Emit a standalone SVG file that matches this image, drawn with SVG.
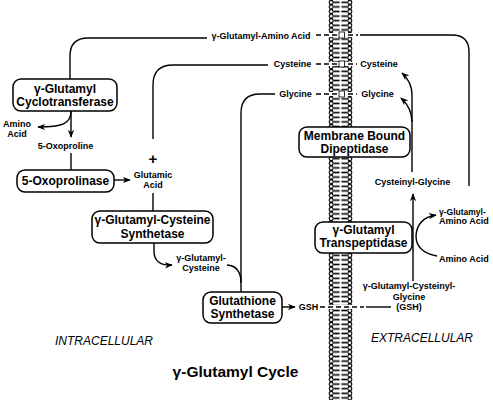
<svg xmlns="http://www.w3.org/2000/svg" width="493" height="400" viewBox="0 0 493 400">
<defs>
<pattern id="lipid" x="328" y="0" width="25" height="4.6" patternUnits="userSpaceOnUse">
<circle cx="3.2" cy="2.3" r="2" fill="#fff" stroke="#000" stroke-width="1.1"/>
<circle cx="21.8" cy="2.3" r="2" fill="#fff" stroke="#000" stroke-width="1.1"/>
<line x1="5.8" y1="2.3" x2="11.6" y2="2.3" stroke="#000" stroke-width="1.6"/>
<line x1="13.4" y1="2.3" x2="19.2" y2="2.3" stroke="#000" stroke-width="1.6"/>
</pattern>
<marker id="ah" viewBox="0 0 10 8" refX="9" refY="4" markerWidth="8" markerHeight="6.4" markerUnits="userSpaceOnUse" orient="auto">
<path d="M0,0 L10,4 L0,8 L3,4 z" fill="#000"/>
</marker>
</defs>
<style>
.box{fill:#fff;stroke:#000;stroke-width:1.5}
.t{font-family:"Liberation Sans",Arial,sans-serif;font-weight:bold;fill:#000;text-anchor:middle}
.n{font-size:12px}
.s{font-size:9px}
.i{font-family:"Liberation Sans",Arial,sans-serif;font-style:italic;font-size:12px;fill:#000;text-anchor:middle}
.c{fill:none;stroke:#000;stroke-width:1.4}
.a{marker-end:url(#ah)}
.d{stroke-dasharray:5 3}
.sq{fill:#fff;stroke:#000;stroke-width:0.8}
</style>
<rect width="493" height="400" fill="#fff"/>
<g id="membrane">
<rect x="328" y="0" width="25" height="400" fill="url(#lipid)"/>
<rect x="327" y="33" width="27" height="4" fill="#fff"/>
<rect x="327" y="62" width="27" height="4" fill="#fff"/>
<rect x="327" y="92" width="27" height="4" fill="#fff"/>
<rect x="327" y="305" width="27" height="4" fill="#fff"/>
</g>
<g id="connectors">
<path class="c" d="M207,38 H88 Q70,38 70,56 V79"/>
<path class="c" d="M469,186 V52 Q469,35 452,35 H360"/>
<path class="c d" d="M316,35 H358"/>
<path class="c" d="M153,139 V85 Q153,65 173,65 H268"/>
<path class="c d" d="M316,64 H357"/>
<path class="c" d="M241,293 V113 Q241,94 260,94 H275"/>
<path class="c d" d="M316,94 H357"/>
<path class="c a" d="M71,111 C71,124 62,127 38,127"/>
<path class="c a" d="M71,111 V137"/>
<path class="c" d="M71,153 V170"/>
<path class="c a" d="M114,180 H130"/>
<path class="c" d="M153,193 V211"/>
<path class="c a" d="M154,243 V251 Q154,266 172,265"/>
<path class="c" d="M227,265 Q241,266 241,283"/>
<path class="c a" d="M282,307 H295"/>
<path class="c d" d="M320,307 H364"/>
<path class="c" d="M366,307 H391"/>
<path class="c a" d="M413,281 V194"/>
<path class="c a" d="M412,172 V95 Q412,82 402,73"/>
<path class="c a" d="M412,122 Q412,108 401,98"/>
<path class="c a" d="M437,256 Q416,252 416,236 Q417,218 436,215"/>
<rect class="sq" x="339" y="32" width="5.5" height="6"/>
<rect class="sq" x="339" y="61" width="5.5" height="6"/>
<rect class="sq" x="339" y="91" width="5.5" height="6"/>
</g>
<g id="cyclotransferase">
<rect class="box" x="13" y="79" width="104" height="32" rx="8"/>
<text class="t n" x="65" y="92.5">γ-Glutamyl</text>
<text class="t n" x="65" y="105.5">Cyclotransferase</text>
</g>
<g id="oxoprolinase">
<rect class="box" x="17" y="170" width="97" height="22" rx="8"/>
<text class="t n" x="65.5" y="185">5-Oxoprolinase</text>
</g>
<g id="gcs">
<rect class="box" x="92" y="211" width="121" height="32" rx="8"/>
<text class="t n" x="152.5" y="223.5">γ-Glutamyl-Cysteine</text>
<text class="t n" x="152.5" y="237.5">Synthetase</text>
</g>
<g id="gs">
<rect class="box" x="203" y="292" width="79" height="31" rx="8"/>
<text class="t n" x="242.5" y="305">Glutathione</text>
<text class="t n" x="242.5" y="317.5">Synthetase</text>
</g>
<g id="dipeptidase">
<rect class="box" x="299" y="127" width="111" height="30" rx="8"/>
<text class="t n" x="354.5" y="140">Membrane Bound</text>
<text class="t n" x="354.5" y="153">Dipeptidase</text>
</g>
<g id="transpeptidase">
<rect class="box" x="315" y="222" width="97" height="31" rx="8"/>
<text class="t n" x="363.5" y="234">γ-Glutamyl</text>
<text class="t n" x="363.5" y="247">Transpeptidase</text>
</g>
<g id="labels">
<text class="t s" x="261" y="38.5">γ-Glutamyl-Amino Acid</text>
<text class="t s" x="292.5" y="67">Cysteine</text>
<text class="t s" x="295.5" y="97">Glycine</text>
<text class="t s" x="379" y="67">Cysteine</text>
<text class="t s" x="377.5" y="97">Glycine</text>
<text class="t s" x="17" y="127">Amino</text>
<text class="t s" x="17" y="136.5">Acid</text>
<text class="t s" x="65.5" y="149">5-Oxoproline</text>
<text class="t" x="153" y="164" font-size="15">+</text>
<text class="t s" x="153" y="178">Glutamic</text>
<text class="t s" x="153" y="188">Acid</text>
<text class="t s" x="201" y="261">γ-Glutamyl-</text>
<text class="t s" x="201" y="271">Cysteine</text>
<text class="t s" x="308.5" y="310">GSH</text>
<text class="t s" x="412.5" y="185">Cysteinyl-Glycine</text>
<text class="t" x="439" y="215" font-size="8.5" style="text-anchor:start">γ-Glutamyl-</text>
<text class="t s" x="439" y="224" style="text-anchor:start">Amino Acid</text>
<text class="t s" x="439" y="262" style="text-anchor:start">Amino Acid</text>
<text class="t s" x="409" y="289">γ-Glutamyl-Cysteinyl-</text>
<text class="t s" x="409" y="299.5">Glycine</text>
<text class="t s" x="409" y="310">(GSH)</text>
<text class="i" x="104" y="345">INTRACELLULAR</text>
<text class="i" x="422" y="342">EXTRACELLULAR</text>
<text class="t" x="235.5" y="377" font-size="15.5">γ-Glutamyl Cycle</text>
</g>
</svg>
